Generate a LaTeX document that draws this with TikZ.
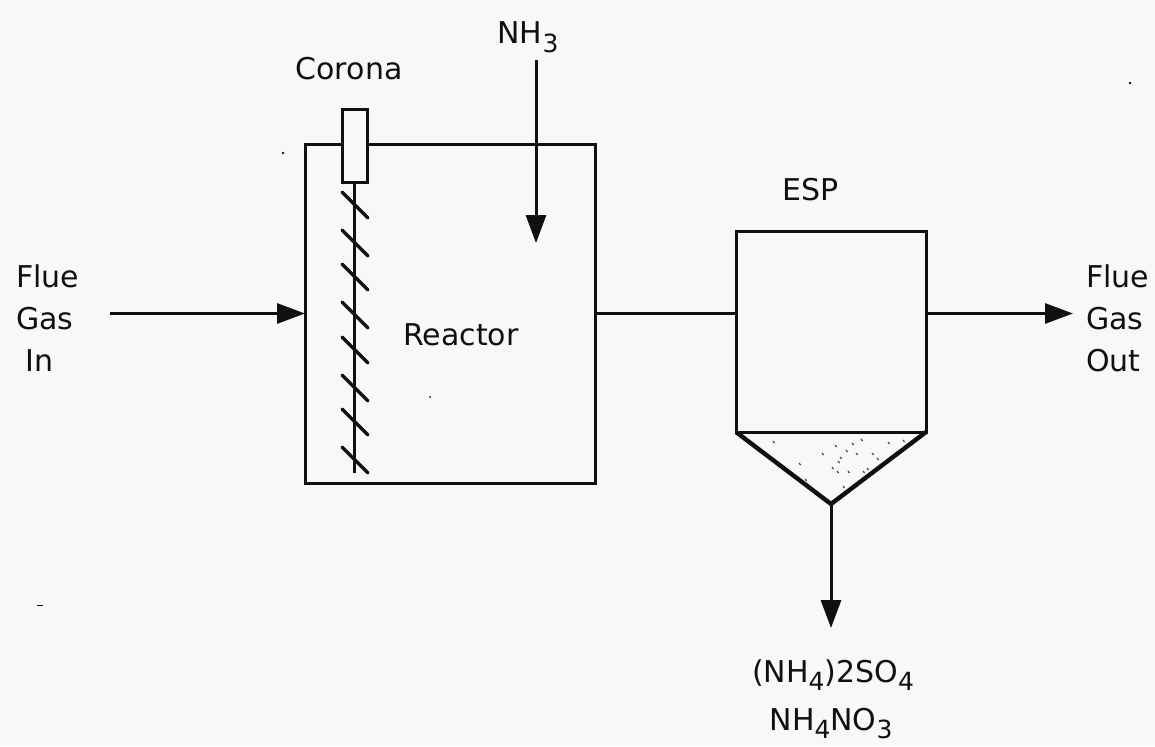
\documentclass[tikz,border=0pt]{standalone}
\usepackage{fontspec}
\setmainfont{DejaVu Sans}
\usetikzlibrary{arrows.meta}
\definecolor{paper}{HTML}{F8F8F8}
\definecolor{ink}{HTML}{101010}
\newcommand{\lowdigit}[1]{\raisebox{-8.5pt}{\fontsize{25}{25}\selectfont #1}}
\tikzset{
  x=1pt,y=-1pt,
  box/.style={draw=ink,line width=3pt,rectangle,inner sep=0pt,outer sep=0pt,anchor=north west},
  lbl/.style={font=\fontsize{30}{42}\selectfont,text=ink,inner sep=0pt,align=center},
  lblleft/.style={lbl,align=left,anchor=west},
  flow/.style={draw=ink,line width=3pt},
  arrowflow/.style={flow,-{Triangle[length=28pt,width=20pt]}},
  hatch/.style={draw=ink,line width=3.4pt,line cap=round},
  speck/.style={draw=ink!75,line width=1.2pt}
}
\begin{document}
\begin{tikzpicture}
\useasboundingbox[fill=paper] (0,0) rectangle (1155,746);
% main boxes
\node[box,minimum width=290pt,minimum height=338pt] (reactor) at (305,145) {};
\node[box,minimum width=190pt,minimum height=201pt] (esp) at (736,231) {};
% electrode
\node[box,fill=paper,minimum width=25pt,minimum height=72pt] (corona) at (342,110) {};
\coordinate (elend) at (354.5,473);
\draw[flow] (corona.south) -- (elend);
\foreach \yy in {192,230,264,302,337,375,409,447}
  \draw[hatch] (342,\yy) -- (368,\yy+26);
% funnel
\coordinate (fl) at (esp.south west);
\coordinate (fr) at (esp.south east);
\coordinate (ftip) at (831,504);
\draw[draw=ink,line width=4.4pt,line join=round] (fl) -- (ftip) -- (fr);
\foreach \px/\py in {773/441,835/445,852/443,861/439,888/442,903/440,822/453,846/450,856/453,872/453,877/458,840/457,838/461,799/463,832/467,837/471,848/471,863/471,867/468,805/479,843/486}
  \draw[speck] (\px,\py) -- (\px+1.6,\py+2);
% connectors
\node[lblleft] (fin) at (16,318) {Flue\\Gas\\\hspace*{9pt}In};
\node[lblleft] (fout) at (1086,318) {Flue\\Gas\\Out};
\coordinate (instart) at (110,313.5);
\draw[arrowflow] (instart) -- (reactor.west |- instart);
\draw[flow] (reactor.east |- instart) -- (esp.west |- instart);
\coordinate (outend) at (1073,313.5);
\draw[arrowflow] (esp.east |- instart) -- (outend);
\coordinate (nhstart) at (536,60);
\coordinate (nhend) at (536,243);
\draw[arrowflow] (nhstart) -- (nhend);
\coordinate (dropend) at (831,628);
\draw[arrowflow] (ftip) -- (dropend);
% labels
\node[lbl,anchor=base] (nh3) at (528,44) {NH\lowdigit{3}};
\node[lbl] (coronalbl) at (349,69) {Corona};
\node[lbl] (reactorlbl) at (461,335) {Reactor};
\node[lbl] (esplbl) at (811,190) {ESP};
\node[lbl,anchor=base] (prod1) at (833,682) {(NH\lowdigit{4})2SO\lowdigit{4}};
\node[lbl,anchor=base] (prod2) at (831,730) {NH\lowdigit{4}NO\lowdigit{3}};
% stray marks of the scan
\fill[ink] (283,153) circle (1.3pt);
\fill[ink] (430,397) circle (1pt);
\fill[ink] (1130,83) circle (1.4pt);
\fill[ink] (37,605) rectangle (43,606);
\end{tikzpicture}
\end{document}
